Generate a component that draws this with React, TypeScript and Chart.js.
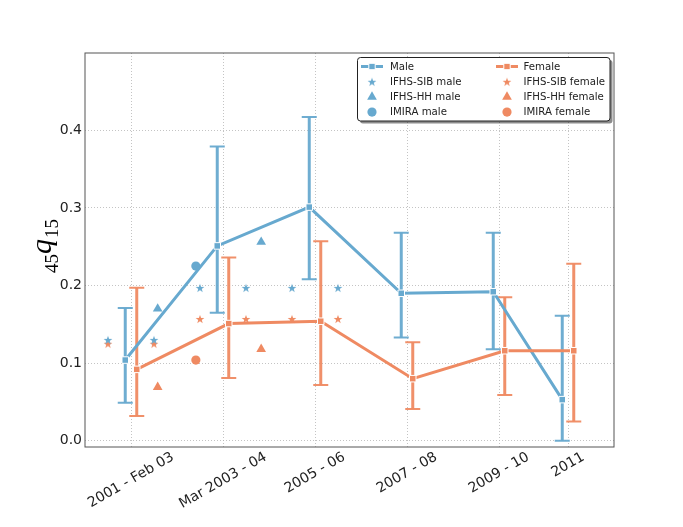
import { useEffect, useRef } from "react";
import { Chart, Plugin, registerables } from "chart.js";

Chart.register(...registerables);

const categories = ["2001 - Feb 03", "Mar 2003 - 04", "2005 - 06", "2007 - 08", "2009 - 10", "2011"];
const categoryYears = [2002, 2004, 2006, 2008, 2010, 2011.5];

const maleRate = [0.104, 0.251, 0.301, 0.19, 0.192, 0.053];
const maleLower = [0.049, 0.165, 0.208, 0.133, 0.118, 0.0];
const maleUpper = [0.171, 0.379, 0.417, 0.268, 0.268, 0.161];

const femaleRate = [0.092, 0.151, 0.154, 0.08, 0.116, 0.116];
const femaleLower = [0.032, 0.081, 0.072, 0.041, 0.059, 0.025];
const femaleUpper = [0.197, 0.236, 0.257, 0.127, 0.185, 0.228];

const sibYears = [2001.5, 2002.5, 2003.5, 2004.5, 2005.5, 2006.5];
const sibMale = [0.13, 0.13, 0.197, 0.197, 0.197, 0.197];
const sibFemale = [0.125, 0.125, 0.157, 0.157, 0.157, 0.157];

const hhYears = [2002.58, 2004.83];
const hhMale = [0.17, 0.256];
const hhFemale = [0.069, 0.118];

const imiraYears = [2003.41];
const imiraMale = [0.225];
const imiraFemale = [0.104];

const yTicks = [0, 0.1, 0.2, 0.3, 0.4];

const BLUE = "#67a9cf";
const ORANGE = "#ef8a62";
const DODGE = 0.125;
const FONT = "'DejaVu Sans', sans-serif";

function starImage(color: string, r: number) {
  const size = Math.ceil(r * 2 + 2);
  const c = document.createElement("canvas");
  c.width = size;
  c.height = size;
  const ctx = c.getContext("2d")!;
  ctx.fillStyle = color;
  ctx.beginPath();
  for (let i = 0; i < 10; i++) {
    const rad = i % 2 === 0 ? r : r * 0.4;
    const a = -Math.PI / 2 + (i * Math.PI) / 5;
    const x = size / 2 + rad * Math.cos(a);
    const y = size / 2 + rad * Math.sin(a) + 0.5;
    if (i === 0) ctx.moveTo(x, y);
    else ctx.lineTo(x, y);
  }
  ctx.closePath();
  ctx.fill();
  return c;
}

function toPoints(xs: number[], ys: number[], shift = 0) {
  return xs.map((x, i) => ({ x: x + shift, y: ys[i] }));
}

function drawMarker(ctx: CanvasRenderingContext2D, ds: any, x: number, y: number) {
  const style = ds.pointStyle;
  if (style instanceof HTMLCanvasElement) {
    ctx.drawImage(style, x - style.width / 2, y - style.height / 2);
    return;
  }
  ctx.fillStyle = ds.pointBackgroundColor;
  ctx.beginPath();
  if (style === "triangle") {
    const r = ds.pointRadius;
    ctx.moveTo(x, y - r);
    ctx.lineTo(x + r * 0.866, y + r * 0.5);
    ctx.lineTo(x - r * 0.866, y + r * 0.5);
    ctx.closePath();
  } else if (style === "circle") {
    ctx.arc(x, y, ds.pointRadius, 0, Math.PI * 2);
  }
  ctx.fill();
}

const framePlugin: Plugin = {
  id: "frame",
  beforeDatasetsDraw(chart) {
    const { ctx, chartArea: a } = chart;
    ctx.save();
    ctx.strokeStyle = "#555";
    ctx.lineWidth = 1;
    ctx.strokeRect(a.left, a.top, a.right - a.left, a.bottom - a.top);
    ctx.restore();
  },
};

const errorBarPlugin: Plugin = {
  id: "errorBars",
  beforeDatasetsDraw(chart) {
    const { ctx } = chart;
    const x = chart.scales.x;
    const y = chart.scales.y;
    chart.data.datasets.forEach((ds: any) => {
      if (!ds.lower) return;
      ctx.save();
      ctx.strokeStyle = ds.borderColor;
      ctx.globalAlpha = 0.95;
      ds.data.forEach((p: any, i: number) => {
        const px = x.getPixelForValue(p.x);
        const lo = y.getPixelForValue(ds.lower[i]);
        const hi = y.getPixelForValue(ds.upper[i]);
        ctx.lineWidth = 3;
        ctx.beginPath();
        ctx.moveTo(px, lo);
        ctx.lineTo(px, hi);
        ctx.stroke();
        ctx.lineWidth = 2;
        ctx.beginPath();
        ctx.moveTo(px - 7.5, lo);
        ctx.lineTo(px + 7.5, lo);
        ctx.moveTo(px - 7.5, hi);
        ctx.lineTo(px + 7.5, hi);
        ctx.stroke();
      });
      ctx.restore();
    });
  },
};

const labelsPlugin: Plugin = {
  id: "labels",
  afterDraw(chart) {
    const { ctx, chartArea } = chart;
    const x = chart.scales.x;
    const ang = Math.PI / 6;
    ctx.save();
    ctx.fillStyle = "#222";
    ctx.font = `14px ${FONT}`;
    categories.forEach((label, i) => {
      const px = x.getPixelForValue(categoryYears[i]);
      const w = ctx.measureText(label).width;
      const h = w * Math.sin(ang) + 14 * Math.cos(ang);
      ctx.save();
      ctx.translate(px, chartArea.bottom + 3 + h / 2);
      ctx.rotate(-ang);
      ctx.textAlign = "center";
      ctx.textBaseline = "middle";
      ctx.fillText(label, 0, 0);
      ctx.restore();
    });

    // y axis title: 45 q 15
    const sub = "19px 'Liberation Serif', serif";
    const main = "italic 30px 'Liberation Serif', serif";
    ctx.font = sub;
    const wa = ctx.measureText("45").width;
    const wc = ctx.measureText("15").width;
    ctx.font = main;
    const wb = ctx.measureText("q").width;
    const total = wa + wb + wc + 1;
    ctx.translate(51, 246 + total / 2);
    ctx.rotate(-Math.PI / 2);
    ctx.textBaseline = "alphabetic";
    ctx.textAlign = "left";
    ctx.fillStyle = "#000";
    ctx.font = sub;
    ctx.fillText("45", 0, 7);
    ctx.font = main;
    ctx.fillText("q", wa, 0);
    ctx.font = sub;
    ctx.fillText("15", wa + wb + 1, 7);
    ctx.restore();
  },
};

const legendPlugin: Plugin = {
  id: "boxLegend",
  afterDraw(chart) {
    const { ctx, chartArea } = chart;
    const w = 252.5;
    const h = 63.5;
    const left = chartArea.right - 4 - w;
    const top = chartArea.top + 4.5;
    ctx.save();
    const box = (ox: number, oy: number) => {
      ctx.beginPath();
      ctx.roundRect(left + ox, top + oy, w, h, 3);
    };
    box(2.5, 2.5);
    ctx.fillStyle = "rgba(0,0,0,0.45)";
    ctx.fill();
    box(0, 0);
    ctx.fillStyle = "#fff";
    ctx.fill();
    ctx.strokeStyle = "#222";
    ctx.lineWidth = 1;
    ctx.stroke();

    ctx.font = `10.2px ${FONT}`;
    ctx.textBaseline = "middle";
    chart.data.datasets.forEach((ds: any, i) => {
      const col = Math.floor(i / 4);
      const row = i % 4;
      const cy = top + 9 + row * 15.2;
      const cx = left + (col === 0 ? 14.5 : 149.5);
      if (ds.showLine !== false) {
        ctx.strokeStyle = ds.borderColor;
        ctx.lineWidth = 3;
        ctx.beginPath();
        ctx.moveTo(cx - 11, cy);
        ctx.lineTo(cx + 11, cy);
        ctx.stroke();
        ctx.fillStyle = ds.pointBackgroundColor;
        ctx.fillRect(cx - 3.2, cy - 3.2, 6.4, 6.4);
        ctx.strokeStyle = "#fff";
        ctx.lineWidth = 1;
        ctx.strokeRect(cx - 3.2, cy - 3.2, 6.4, 6.4);
      } else {
        drawMarker(ctx, ds, cx, cy);
      }
      ctx.fillStyle = "#222";
      ctx.fillText(ds.label, left + (col === 0 ? 32.5 : 166), cy + 0.5);
    });
    ctx.restore();
  },
};

function lineSeries(label: string, color: string, ys: number[], lower: number[], upper: number[], shift: number, order: number) {
  return {
    label,
    data: toPoints(categoryYears, ys, shift),
    lower,
    upper,
    borderColor: color,
    borderWidth: 3,
    pointStyle: "rect",
    pointRadius: 4.6,
    pointBackgroundColor: color,
    pointBorderColor: "#fff",
    pointBorderWidth: 1,
    order,
  };
}

function markerSeries(label: string, color: string, xs: number[], ys: number[], style: any, radius: number) {
  return {
    label,
    data: toPoints(xs, ys),
    showLine: false,
    pointStyle: style,
    pointRadius: radius,
    pointBackgroundColor: color,
    pointBorderWidth: 0,
    borderColor: color,
    order: -1,
  };
}

function MortalityChart() {
  const canvasRef = useRef<HTMLCanvasElement | null>(null);

  useEffect(() => {
    const canvas = canvasRef.current;
    if (!canvas) return;

    const chart = new Chart(canvas, {
      type: "line",
      data: {
        datasets: [
          lineSeries("Male", BLUE, maleRate, maleLower, maleUpper, -DODGE, 1),
          markerSeries("IFHS-SIB male", BLUE, sibYears, sibMale, starImage(BLUE, 4.6), 5),
          markerSeries("IFHS-HH male", BLUE, hhYears, hhMale, "triangle", 5.6),
          markerSeries("IMIRA male", BLUE, imiraYears, imiraMale, "circle", 4.6),
          lineSeries("Female", ORANGE, femaleRate, femaleLower, femaleUpper, DODGE, 0),
          markerSeries("IFHS-SIB female", ORANGE, sibYears, sibFemale, starImage(ORANGE, 4.6), 5),
          markerSeries("IFHS-HH female", ORANGE, hhYears, hhFemale, "triangle", 5.6),
          markerSeries("IMIRA female", ORANGE, imiraYears, imiraFemale, "circle", 4.6),
        ] as any,
      },
      options: {
        animation: false,
        responsive: true,
        maintainAspectRatio: false,
        layout: { padding: { top: 53, right: 69, left: 0, bottom: 0 } },
        plugins: {
          legend: { display: false },
          tooltip: { enabled: false },
        },
        scales: {
          x: {
            type: "linear",
            min: 2001,
            max: 2012.5,
            afterBuildTicks: (scale) => {
              scale.ticks = categoryYears.map((v) => ({ value: v }));
            },
            afterFit: (scale) => {
              scale.height = 80;
            },
            ticks: { display: false },
            grid: { color: "#b5b5b5", lineWidth: 0.8, drawTicks: false },
            border: { display: false, dash: [1, 2] },
          },
          y: {
            min: -0.008,
            max: 0.4995,
            afterBuildTicks: (scale) => {
              scale.ticks = yTicks.map((v) => ({ value: v }));
            },
            afterFit: (scale) => {
              scale.width = 85;
            },
            ticks: {
              padding: 3,
              color: "#222",
              font: { family: FONT, size: 14 },
              callback: (v) => Number(v).toFixed(1),
            },
            grid: { color: "#b5b5b5", lineWidth: 0.8, drawTicks: false },
            border: { display: false, dash: [1, 2] },
          },
        },
      },
      plugins: [framePlugin, errorBarPlugin, labelsPlugin, legendPlugin],
    });

    return () => {
      chart.destroy();
    };
  }, []);

  return (
    <div style={{ position: "absolute", left: 0, top: 0, width: 683, height: 527, background: "#fff" }}>
      <canvas ref={canvasRef} />
    </div>
  );
}

export default function App() {
  return <MortalityChart />;
}
